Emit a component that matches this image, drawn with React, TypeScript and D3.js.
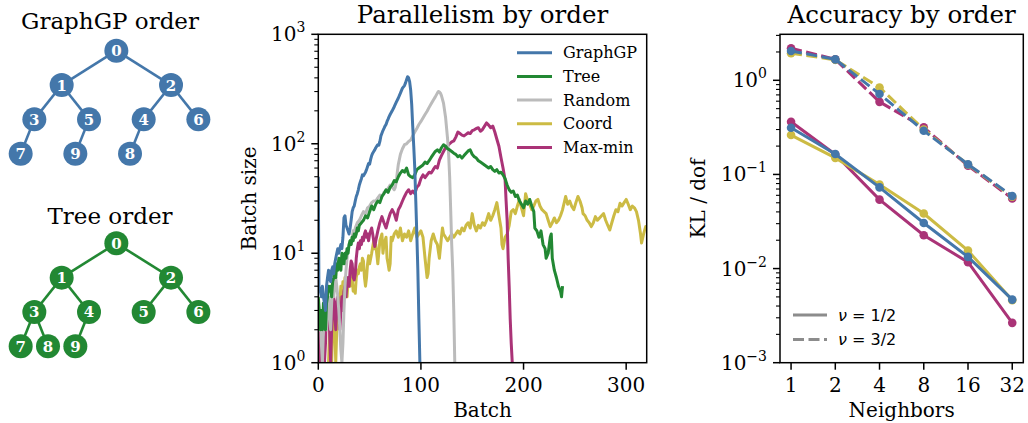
import React from "react";
import * as d3 from "d3";

// colours (Paul Tol "bright")
const BLUE = "#4477AA";
const GREEN = "#228833";
const GRAY = "#BBBBBB";
const YELLOW = "#CCBB44";
const MAGENTA = "#AA3377";
const SERIF = "DejaVu Serif, serif";
const SANS = "DejaVu Sans, sans-serif";

// ---------- tree diagrams: column slot, depth level, parent ----------
type TreeNode = { id: number; col: number; level: number; parent: number | null };

const graphgpNodes: TreeNode[] = [
  { id: 0, col: 8, level: 0, parent: null },
  { id: 1, col: 4, level: 1, parent: 0 },
  { id: 2, col: 12, level: 1, parent: 0 },
  { id: 3, col: 2, level: 2, parent: 1 },
  { id: 5, col: 6, level: 2, parent: 1 },
  { id: 4, col: 10, level: 2, parent: 2 },
  { id: 6, col: 14, level: 2, parent: 2 },
  { id: 7, col: 1, level: 3, parent: 3 },
  { id: 9, col: 5, level: 3, parent: 5 },
  { id: 8, col: 9, level: 3, parent: 4 },
];

const treeNodes: TreeNode[] = [
  { id: 0, col: 8, level: 0, parent: null },
  { id: 1, col: 4, level: 1, parent: 0 },
  { id: 2, col: 12, level: 1, parent: 0 },
  { id: 3, col: 2, level: 2, parent: 1 },
  { id: 4, col: 6, level: 2, parent: 1 },
  { id: 5, col: 10, level: 2, parent: 2 },
  { id: 6, col: 14, level: 2, parent: 2 },
  { id: 7, col: 1, level: 3, parent: 3 },
  { id: 8, col: 3, level: 3, parent: 3 },
  { id: 9, col: 5, level: 3, parent: 4 },
];

// ---------- parallelism: [batch, batch size] ----------
const graphgpBatches: [number, number][] = [
  [0, 50], [0.6, 5], [2, 4.5], [3, 4], [4, 5], [5, 4], [6, 3.5], [7, 3], [8, 5], [9, 6], [10, 7],
  [11, 6], [12, 5.5], [13, 7], [14, 7.5], [15, 6.5], [16, 8], [17, 9], [18, 10], [19, 11], [20, 10],
  [21, 11], [22, 12], [23, 11], [24, 14], [25, 21], [26, 22], [27, 18], [28, 17], [29, 16], [30, 15],
  [31, 17], [32, 20], [33, 24], [34, 26], [35, 27], [36, 30], [37, 33], [38, 35], [39, 38], [40, 42],
  [41, 45], [42, 48], [43, 52], [44, 51], [45, 53], [46, 55], [47, 58], [48, 62], [49, 66], [50, 65],
  [51, 72], [52, 78], [53, 82], [54, 85], [55, 88], [56, 92], [57, 95], [58, 98], [59, 97], [60, 105],
  [61, 118], [62, 125], [63, 132], [64, 138], [65, 145], [66, 150], [67, 160], [68, 168], [69, 177],
  [70, 185], [72, 200], [74, 218], [76, 240], [78, 262], [80, 290], [82, 322], [84, 340], [85, 360],
  [86, 385], [87, 410], [88, 400], [89, 370], [90, 310], [91, 230], [92, 145], [93, 95], [94, 60],
  [95, 30], [96, 15], [97, 7], [98, 2.5], [99, 1],
];

const randomBatches: [number, number][] = [
  [0, 3], [1, 2], [2, 3], [3, 1.5], [4, 1], [5, 2], [6, 3], [7, 2.5], [8, 2], [9, 3], [10, 4],
  [11, 3], [12, 2], [13, 3.5], [14, 5], [15, 4], [16, 5], [17, 6], [18, 5], [19, 4], [20, 3],
  [21, 2], [22, 1.3], [23, 1], [24, 1.5], [25, 3], [26, 5], [27, 7], [28, 9], [29, 11], [30, 12],
  [31, 13], [32, 12], [33, 14], [34, 16], [35, 15], [36, 17], [38, 19], [40, 20], [42, 22], [44, 24],
  [46, 23], [48, 26], [50, 27], [52, 29], [54, 30], [56, 30], [58, 32], [60, 34], [62, 33], [64, 36],
  [66, 37], [68, 39], [70, 42], [72, 40], [74, 38], [75, 40], [76, 45], [77, 55], [78, 65], [79, 72],
  [80, 80], [81, 85], [82, 90], [84, 98], [86, 100], [88, 105], [90, 108], [92, 118], [94, 128],
  [96, 138], [98, 150], [100, 160], [102, 172], [104, 185], [106, 198], [108, 215], [110, 232],
  [112, 250], [114, 268], [116, 290], [117, 300], [118, 298], [119, 290], [120, 275], [122, 235],
  [124, 175], [126, 110], [127, 80], [128, 50], [129, 25], [130, 12], [131, 7], [132, 3], [133, 1],
];

const treeBatches: [number, number][] = [
  [0, 4], [1, 3], [2, 2], [3, 3], [4, 2], [5, 3.5], [6, 2.5], [7, 2], [8, 3.5], [9, 4], [10, 5],
  [11, 4.5], [12, 5], [13, 4], [14, 5.5], [15, 6], [16, 7], [17, 6], [18, 8], [19, 7], [20, 9],
  [21, 8], [22, 7], [23, 10], [24, 9], [25, 8], [26, 10], [27, 9], [28, 11], [29, 10], [30, 12],
  [31, 13], [32, 12], [33, 14], [34, 13], [35, 15], [36, 14], [37, 15], [38, 17], [39, 16], [40, 18],
  [42, 19], [44, 20], [46, 22], [48, 21], [50, 24], [52, 27], [54, 25], [56, 28], [58, 30], [60, 29],
  [62, 33], [64, 35], [66, 38], [68, 36], [70, 40], [72, 42], [74, 46], [76, 45], [78, 50], [80, 54],
  [82, 57], [84, 55], [86, 60], [88, 52], [90, 50], [92, 49], [94, 52], [96, 58], [98, 60], [100, 62],
  [102, 64], [104, 68], [106, 66], [108, 70], [110, 75], [112, 80], [114, 85], [116, 88], [118, 84],
  [120, 92], [122, 98], [124, 95], [126, 90], [128, 88], [130, 85], [132, 82], [134, 80], [136, 76],
  [138, 78], [140, 74], [142, 78], [144, 82], [146, 86], [148, 88], [150, 80], [152, 76], [154, 74],
  [156, 70], [158, 68], [160, 66], [162, 64], [164, 62], [166, 60], [168, 62], [170, 58], [172, 56],
  [174, 58], [176, 54], [178, 55], [180, 52], [182, 48], [184, 42], [186, 38], [188, 36], [190, 37],
  [192, 33], [194, 34], [196, 30], [198, 28], [200, 26], [202, 30], [204, 28], [206, 31], [208, 27],
  [210, 24], [211, 17], [213, 16], [215, 14], [217, 16], [219, 12], [221, 11], [222, 9], [224, 10],
  [226, 14], [227, 15], [228, 9], [230, 7], [232, 6], [234, 5], [236, 4.5], [237, 4], [238, 5],
];

const coordBatches: [number, number][] = [
  [10, 1], [11, 2], [12, 1.5], [13, 1], [14, 2], [15, 3], [16, 2.5], [17, 1], [18, 2], [19, 3],
  [20, 4], [21, 3.5], [22, 5], [23, 4], [24, 5.5], [25, 4.5], [26, 6], [27, 5], [28, 4], [29, 5.5],
  [30, 6], [31, 5], [32, 7], [33, 6], [34, 4.5], [35, 5], [36, 4.3], [37, 6], [38, 7], [39, 6.5],
  [40, 7.5], [41, 8], [42, 7], [43, 9], [44, 8.5], [45, 6], [46, 5], [47, 6], [48, 8], [49, 9.5],
  [50, 8], [52, 10], [54, 13], [55, 11], [56, 12], [58, 8], [60, 13], [62, 15], [63, 10], [64, 12],
  [66, 14], [67, 9], [68, 8], [69, 7], [70, 8], [71, 14], [72, 13], [74, 15], [76, 16], [78, 14],
  [80, 17], [82, 13], [84, 15], [86, 14], [88, 16], [90, 13], [92, 15], [94, 17], [96, 14], [98, 15],
  [100, 16], [102, 14], [104, 9], [106, 6], [107, 6.5], [108, 9], [110, 13], [112, 15], [114, 13],
  [116, 12], [118, 9], [120, 14], [121, 17], [122, 15], [124, 14], [126, 13], [128, 14], [130, 15],
  [132, 14], [134, 15], [136, 16], [138, 15], [140, 17], [142, 16], [144, 18], [146, 19], [148, 17],
  [150, 23], [152, 18], [154, 16], [156, 18], [158, 17], [160, 19], [162, 18], [164, 20], [166, 23],
  [168, 20], [170, 22], [172, 25], [174, 29], [176, 22], [178, 17], [179, 12], [180, 11], [182, 14],
  [184, 15], [186, 18], [188, 24], [190, 25], [192, 23], [194, 27], [196, 31], [198, 26], [200, 22],
  [202, 35], [204, 30], [206, 28], [208, 25], [210, 27], [212, 30], [214, 31], [216, 27], [218, 25],
  [220, 24], [222, 23], [224, 20], [226, 17.5], [228, 19], [230, 21], [232, 19], [234, 20], [236, 22],
  [238, 25], [240, 30], [241, 33], [243, 28], [245, 30], [247, 26.7], [249, 25], [251, 29], [253, 33],
  [255, 30], [257, 26], [258, 23], [260, 22], [262, 20], [264, 19], [266, 17.5], [268, 19], [270, 21.6],
  [272, 20], [274, 21], [276, 22], [278, 23], [280, 20], [282, 18], [284, 16.3], [286, 19], [288, 22],
  [290, 25], [292, 24], [294, 28.6], [296, 27], [298, 29], [300, 31], [302, 28], [304, 25], [306, 27],
  [308, 26], [310, 24], [312, 20], [314, 15], [315, 12.4], [317, 15], [319, 17.5], [320, 16],
];

const maxminBatches: [number, number][] = [
  [0, 2], [1, 1.5], [2, 1], [3, 1.5], [4, 2], [5, 1.2], [6, 1], [7, 1.5], [8, 3], [9, 2.5], [10, 3],
  [11, 2], [12, 1], [13, 2], [14, 3], [15, 4], [16, 3], [17, 2], [18, 3.5], [19, 4], [20, 3],
  [21, 2], [22, 3], [23, 4], [24, 3], [25, 4.5], [26, 5], [27, 4], [28, 5.5], [29, 6], [30, 5],
  [31, 7], [32, 8.5], [33, 8], [34, 6], [35, 5.7], [36, 6.5], [37, 9], [38, 11], [39, 12.4], [40, 11],
  [41, 13], [42, 12], [43, 14], [44, 13], [45, 15], [46, 16], [47, 14], [48, 15], [49, 13], [50, 15],
  [51, 16], [52, 17], [53, 15], [54, 13], [55, 11.5], [56, 13], [58, 16], [60, 19], [62, 21.6],
  [64, 19], [66, 17], [68, 20], [70, 23], [72, 25], [74, 23], [76, 20], [78, 25], [80, 27], [82, 30],
  [84, 33], [86, 36], [88, 38], [90, 35], [92, 37], [94, 35], [96, 40], [98, 42], [100, 48], [102, 52],
  [104, 49], [106, 52], [108, 55], [110, 54], [112, 58], [114, 62], [116, 60], [118, 71], [120, 78],
  [122, 85], [124, 92], [126, 96], [128, 100], [130, 104], [132, 106], [134, 115], [136, 128],
  [138, 124], [140, 120], [142, 118], [144, 122], [146, 126], [148, 124], [150, 132], [152, 134],
  [154, 138], [156, 140], [158, 130], [160, 135], [162, 145], [164, 155], [166, 148], [168, 140],
  [170, 145], [172, 128], [174, 110], [176, 95], [178, 75], [180, 60], [182, 47], [183, 30], [184, 20],
  [185, 9], [186, 5], [187, 2.5], [188, 1.5], [189, 1],
];

const batchXTicks = [0, 100, 200, 300];
const batchYExponents = [0, 1, 2, 3];

// ---------- accuracy: KL / dof by neighbors ----------
const neighbors = [1, 2, 4, 8, 16, 32];
const klHalfGraphGP = [0.313, 0.165, 0.0728, 0.0305, 0.0133, 0.00468];
const klHalfCoord = [0.262, 0.15, 0.078, 0.0384, 0.0155, 0.0046];
const klHalfMaxmin = [0.363, 0.163, 0.054, 0.0226, 0.0117, 0.00265];
const klThreeHalfGraphGP = [2.05, 1.67, 0.715, 0.291, 0.128, 0.059];
const klThreeHalfCoord = [1.94, 1.65, 0.84, 0.3, 0.127, 0.058];
const klThreeHalfMaxmin = [2.19, 1.67, 0.59, 0.316, 0.124, 0.0556];
const klYExponents = [-3, -2, -1, 0];

// ---------- layout ----------
const MID = { left: 318.3, right: 646.7, top: 34.3, bottom: 362.7 };
const ACC = { left: 780, right: 1023.3, top: 34.3, bottom: 362.7 };
const MAJOR = 7;
const MINOR = 4;
const LW = 3;

const minorLogTicks = (lo: number, hi: number) => {
  const out: number[] = [];
  for (let e = Math.floor(Math.log10(lo)); e <= Math.ceil(Math.log10(hi)); e++) {
    for (let k = 2; k <= 9; k++) {
      const v = k * Math.pow(10, e);
      if (v >= lo && v <= hi) out.push(v);
    }
  }
  return out;
};

const expLabel = (e: number) => (e < 0 ? "\u2212" + Math.abs(e) : String(e));

const TreeDiagram: React.FC<{ nodes: TreeNode[]; color: string; title: string; top: number; titleY: number }> = ({
  nodes,
  color,
  title,
  top,
  titleY,
}) => {
  const x = d3.scaleLinear().domain([0, 16]).range([7, 225.7]);
  const y = d3.scaleLinear().domain([0, 3]).range([top, top + 103]);
  const byId = new Map(nodes.map((n) => [n.id, n]));
  return (
    <g>
      <text x={110} y={titleY} textAnchor="middle" fontFamily={SERIF} fontSize={23}>
        {title}
      </text>
      {nodes
        .filter((n) => n.parent !== null)
        .map((n) => {
          const p = byId.get(n.parent as number)!;
          return (
            <line key={"e" + n.id} x1={x(p.col)} y1={y(p.level)} x2={x(n.col)} y2={y(n.level)} stroke={color} strokeWidth={2.6} />
          );
        })}
      {nodes.map((n) => (
        <g key={"n" + n.id}>
          <circle cx={x(n.col)} cy={y(n.level)} r={12} fill={color} />
          <text
            x={x(n.col)}
            y={y(n.level) + 5.5}
            textAnchor="middle"
            fontFamily={SERIF}
            fontWeight="bold"
            fontSize={15}
            fill="white"
          >
            {n.id}
          </text>
        </g>
      ))}
    </g>
  );
};

const ParallelismPanel: React.FC = () => {
  const x = d3.scaleLinear().domain([0, 320]).range([MID.left, MID.right]);
  const y = d3.scaleLog().domain([1, 1000]).range([MID.bottom, MID.top]);
  const line = d3
    .line<[number, number]>()
    .x((d) => x(d[0]))
    .y((d) => y(Math.max(d[1], 0.9)));
  const drawn = [
    { name: "Coord", data: coordBatches, color: YELLOW },
    { name: "Max-min", data: maxminBatches, color: MAGENTA },
    { name: "Random", data: randomBatches, color: GRAY },
    { name: "Tree", data: treeBatches, color: GREEN },
    { name: "GraphGP", data: graphgpBatches, color: BLUE },
  ];
  const legend = [
    { name: "GraphGP", color: BLUE },
    { name: "Tree", color: GREEN },
    { name: "Random", color: GRAY },
    { name: "Coord", color: YELLOW },
    { name: "Max-min", color: MAGENTA },
  ];
  return (
    <g>
      <defs>
        <clipPath id="midclip">
          <rect x={MID.left} y={MID.top} width={MID.right - MID.left} height={MID.bottom - MID.top} />
        </clipPath>
      </defs>
      <g clipPath="url(#midclip)">
        {drawn.map((s) => (
          <path key={s.name} d={line(s.data) || ""} fill="none" stroke={s.color} strokeWidth={LW} strokeLinejoin="round" />
        ))}
      </g>
      {legend.map((s, i) => (
        <g key={s.name} transform={`translate(0,${52.7 + i * 23.7})`}>
          <line x1={517} x2={552} y1={0} y2={0} stroke={s.color} strokeWidth={LW} />
          <text x={563} y={5.5} fontFamily={SERIF} fontSize={16}>
            {s.name}
          </text>
        </g>
      ))}
      <rect
        x={MID.left}
        y={MID.top}
        width={MID.right - MID.left}
        height={MID.bottom - MID.top}
        fill="none"
        stroke="black"
        strokeWidth={1.5}
      />
      {batchXTicks.map((t) => (
        <g key={t}>
          <line x1={x(t)} x2={x(t)} y1={MID.bottom} y2={MID.bottom + MAJOR} stroke="black" strokeWidth={1.5} />
          <text x={x(t)} y={391.5} textAnchor="middle" fontFamily={SERIF} fontSize={20}>
            {t}
          </text>
        </g>
      ))}
      {minorLogTicks(1, 1000).map((t) => (
        <line key={t} x1={MID.left - MINOR} x2={MID.left} y1={y(t)} y2={y(t)} stroke="black" strokeWidth={1.1} />
      ))}
      {batchYExponents.map((e) => (
        <g key={e}>
          <line x1={MID.left - MAJOR} x2={MID.left} y1={y(Math.pow(10, e))} y2={y(Math.pow(10, e))} stroke="black" strokeWidth={1.5} />
          <text x={MID.left - 13} y={y(Math.pow(10, e)) + 7} textAnchor="end" fontFamily={SERIF} fontSize={20}>
            10
            <tspan fontSize={14} dy={-9}>
              {expLabel(e)}
            </tspan>
          </text>
        </g>
      ))}
      <text x={(MID.left + MID.right) / 2} y={23} textAnchor="middle" fontFamily={SERIF} fontSize={24.5}>
        Parallelism by order
      </text>
      <text x={(MID.left + MID.right) / 2} y={417} textAnchor="middle" fontFamily={SERIF} fontSize={20}>
        Batch
      </text>
      <text
        transform={`translate(256,${(MID.top + MID.bottom) / 2}) rotate(-90)`}
        textAnchor="middle"
        fontFamily={SERIF}
        fontSize={20}
      >
        Batch size
      </text>
    </g>
  );
};

const AccuracyPanel: React.FC = () => {
  const x = d3
    .scaleLog()
    .base(2)
    .domain([Math.pow(2, -0.25), Math.pow(2, 5.25)])
    .range([ACC.left, ACC.right]);
  const y = d3.scaleLog().domain([1e-3, Math.pow(10, 0.4887)]).range([ACC.bottom, ACC.top]);
  const line = d3
    .line<number>()
    .x((_, i) => x(neighbors[i]))
    .y((d) => y(d));
  const series = [
    { key: "mh", data: klHalfMaxmin, color: MAGENTA, dash: "" },
    { key: "ch", data: klHalfCoord, color: YELLOW, dash: "" },
    { key: "gh", data: klHalfGraphGP, color: BLUE, dash: "" },
    { key: "mt", data: klThreeHalfMaxmin, color: MAGENTA, dash: "11 4.5" },
    { key: "ct", data: klThreeHalfCoord, color: YELLOW, dash: "11 4.5" },
    { key: "gt", data: klThreeHalfGraphGP, color: BLUE, dash: "11 4.5" },
  ];
  const [lo, hi] = y.domain();
  return (
    <g>
      {series.map((s) => (
        <g key={s.key}>
          <path d={line(s.data) || ""} fill="none" stroke={s.color} strokeWidth={LW} strokeDasharray={s.dash} />
          {s.data.map((v, i) => (
            <circle key={i} cx={x(neighbors[i])} cy={y(v)} r={4.3} fill={s.color} />
          ))}
        </g>
      ))}
      {[
        { label: "1/2", dash: "" },
        { label: "3/2", dash: "11 4.5" },
      ].map((l, i) => (
        <g key={l.label} transform={`translate(0,${315 + i * 24.5})`}>
          <line x1={793} x2={827} y1={0} y2={0} stroke="#8c8c8c" strokeWidth={LW} strokeDasharray={l.dash} />
          <text x={838} y={5.5} fontFamily={SANS} fontSize={16}>
            <tspan fontStyle="italic">ν</tspan> = {l.label}
          </text>
        </g>
      ))}
      <rect
        x={ACC.left}
        y={ACC.top}
        width={ACC.right - ACC.left}
        height={ACC.bottom - ACC.top}
        fill="none"
        stroke="black"
        strokeWidth={1.5}
      />
      {neighbors.map((t) => (
        <g key={t}>
          <line x1={x(t)} x2={x(t)} y1={ACC.bottom} y2={ACC.bottom + MAJOR} stroke="black" strokeWidth={1.5} />
          <text x={x(t)} y={391.5} textAnchor="middle" fontFamily={SERIF} fontSize={20}>
            {t}
          </text>
        </g>
      ))}
      {minorLogTicks(lo, hi).map((t) => (
        <line key={t} x1={ACC.left - MINOR} x2={ACC.left} y1={y(t)} y2={y(t)} stroke="black" strokeWidth={1.1} />
      ))}
      {klYExponents.map((e) => (
        <g key={e}>
          <line x1={ACC.left - MAJOR} x2={ACC.left} y1={y(Math.pow(10, e))} y2={y(Math.pow(10, e))} stroke="black" strokeWidth={1.5} />
          <text x={ACC.left - 13} y={y(Math.pow(10, e)) + 7} textAnchor="end" fontFamily={SERIF} fontSize={20}>
            10
            <tspan fontSize={14} dy={-9}>
              {expLabel(e)}
            </tspan>
          </text>
        </g>
      ))}
      <text x={(ACC.left + ACC.right) / 2} y={23} textAnchor="middle" fontFamily={SERIF} fontSize={24.5}>
        Accuracy by order
      </text>
      <text x={(ACC.left + ACC.right) / 2} y={417} textAnchor="middle" fontFamily={SERIF} fontSize={20}>
        Neighbors
      </text>
      <text
        transform={`translate(705,${(ACC.top + ACC.bottom) / 2}) rotate(-90)`}
        textAnchor="middle"
        fontFamily={SERIF}
        fontSize={20}
      >
        KL / dof
      </text>
    </g>
  );
};

export default function App() {
  return (
    <svg
      width={1028}
      height={423}
      style={{ position: "absolute", left: 0, top: 0, background: "white" }}
    >
      <TreeDiagram nodes={graphgpNodes} color={BLUE} title="GraphGP order" top={50.7} titleY={28.5} />
      <TreeDiagram nodes={treeNodes} color={GREEN} title="Tree order" top={243.3} titleY={224} />
      <ParallelismPanel />
      <AccuracyPanel />
    </svg>
  );
}
